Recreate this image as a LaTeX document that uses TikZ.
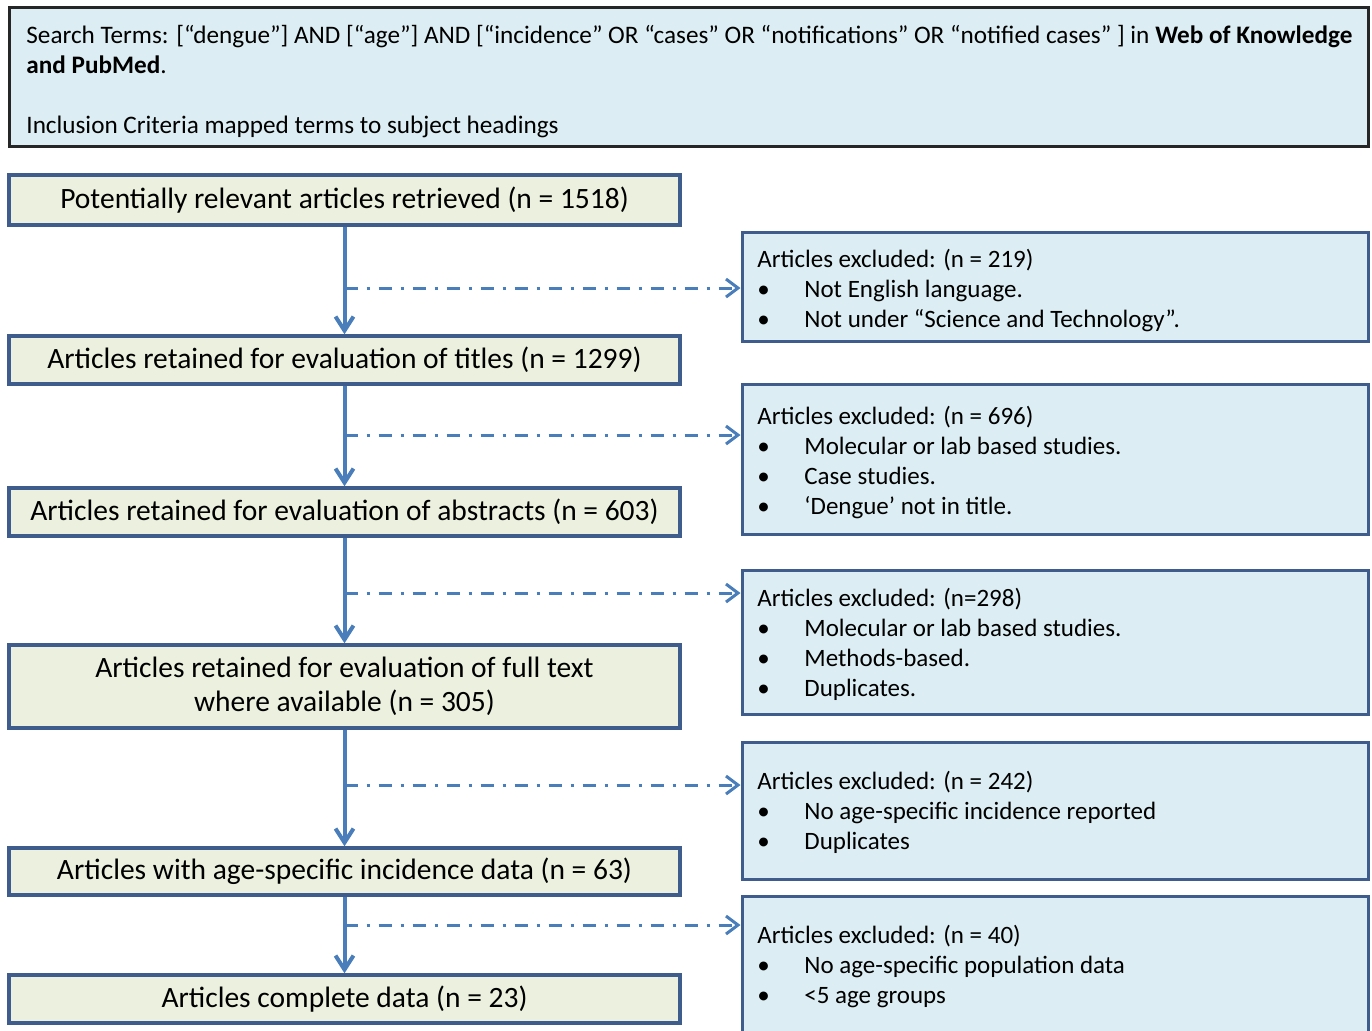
\documentclass[tikz,border=0pt]{standalone}
\usepackage{fontspec}
\setmainfont{Carlito}
\usepackage{tikz}
\usetikzlibrary{arrows.meta}
\usetikzlibrary{calc}
\definecolor{boxline}{HTML}{3F5D8C}
\definecolor{flowline}{HTML}{4A7EBB}
\definecolor{greenfill}{HTML}{EBF1DE}
\definecolor{bluefill}{HTML}{DCEEF3}
\newcommand{\bul}{\makebox[23.5pt][l]{\textbullet}}

\begin{document}
\begin{tikzpicture}[
    x=0.5pt, y=-0.5pt,
    search box/.style={draw=black!85, fill=bluefill, line width=1.5pt, inner sep=0pt},
    retained box/.style={draw=boxline, fill=greenfill, line width=1.75pt, inner sep=0pt,
        minimum width=335.5pt, align=center, font=\fontsize{14.75}{16.75}\selectfont},
    excluded box/.style={draw=boxline, fill=bluefill, line width=1.5pt, inner sep=0pt,
        minimum width=313pt},
    list text/.style={anchor=base west, inner sep=0pt, font=\fontsize{12.5}{15}\selectfont},
    main arrow/.style={draw=flowline, line width=2pt, -{Straight Barb[length=7pt,width=9pt]}},
    side arrow/.style={draw=flowline, line width=1.5pt, dash pattern=on 6.5pt off 4.5pt on 1.5pt off 4.5pt,
        -{Straight Barb[length=6pt,width=9pt]}}
    ]
    \useasboundingbox (0,0) rectangle (1372,1030);

    % search terms
    \node[search box, minimum width=679.5pt, minimum height=69.5pt] (search) at (688.5,76.5) {};
    \node[list text, font=\fontsize{12.6}{15}\selectfont] (searchtext) at (26,43) {\parbox[t]{670pt}{%
        Search Terms: [“dengue”] AND [“age”] AND [“incidence” OR “cases” OR “notifications” OR “notified cases” ] in \textbf{Web of Knowledge}\\
        \textbf{and PubMed}.\\[15pt]
        Inclusion Criteria mapped terms to subject headings}};

    % retained articles
    \node[retained box, minimum height=25pt] (g1) at (344.5,200) {Potentially relevant articles retrieved (n = 1518)};
    \node[retained box, minimum height=24pt] (g2) at (344.5,360) {Articles retained for evaluation of titles (n = 1299)};
    \node[retained box, minimum height=24pt] (g3) at (344.5,512) {Articles retained for evaluation of abstracts (n = 603)};
    \node[retained box, minimum height=41.5pt] (g4) at (344.5,686.5) {Articles retained for evaluation of full text\\where available (n = 305)};
    \node[retained box, minimum height=23.5pt] (g5) at (344.5,871.5) {Articles with age-specific incidence data (n = 63)};
    \node[retained box, minimum height=24pt] (g6) at (344.5,999) {Articles complete data (n = 23)};

    % excluded articles
    \node[excluded box, minimum height=54.5pt] (b1) at (1055,286.5) {};
    \node[excluded box, minimum height=75pt] (b2) at (1055,459) {};
    \node[excluded box, minimum height=72pt] (b3) at (1055,642) {};
    \node[excluded box, minimum height=68.5pt] (b4) at (1055,810.5) {};
    \node[excluded box, minimum height=72pt] (b5) at (1055,968) {};

    \node[list text] (t1) at (757,267) {\parbox[t]{300pt}{Articles excluded: (n = 219)\\
        \bul Not English language.\\ \bul Not under “Science and Technology”.}};
    \node[list text] (t2) at (757,424) {\parbox[t]{300pt}{Articles excluded: (n = 696)\\
        \bul Molecular or lab based studies.\\ \bul Case studies.\\ \bul ‘Dengue’ not in title.}};
    \node[list text] (t3) at (757,606) {\parbox[t]{300pt}{Articles excluded: (n=298)\\
        \bul Molecular or lab based studies.\\ \bul Methods-based.\\ \bul Duplicates.}};
    \node[list text] (t4) at (757,789) {\parbox[t]{300pt}{Articles excluded: (n = 242)\\
        \bul No age-specific incidence reported\\ \bul Duplicates}};
    \node[list text] (t5) at (757,943) {\parbox[t]{300pt}{Articles excluded: (n = 40)\\
        \bul No age-specific population data\\ \bul <5 age groups}};

    % main flow
    \draw[main arrow] (g1) -- (g2);
    \draw[main arrow] (g2) -- (g3);
    \draw[main arrow] (g3) -- (g4);
    \draw[main arrow] (g4) -- (g5);
    \draw[main arrow] (g5) -- (g6);

    % exclusions
    \coordinate (s1) at (344.5,288);
    \coordinate (s2) at (344.5,435);
    \coordinate (s3) at (344.5,593);
    \coordinate (s4) at (344.5,785);
    \coordinate (s5) at (344.5,925);
    \draw[side arrow] (s1) -- (s1 -| b1.west);
    \draw[side arrow] (s2) -- (s2 -| b2.west);
    \draw[side arrow] (s3) -- (s3 -| b3.west);
    \draw[side arrow] (s4) -- (s4 -| b4.west);
    \draw[side arrow] (s5) -- (s5 -| b5.west);
\end{tikzpicture}
\end{document}
